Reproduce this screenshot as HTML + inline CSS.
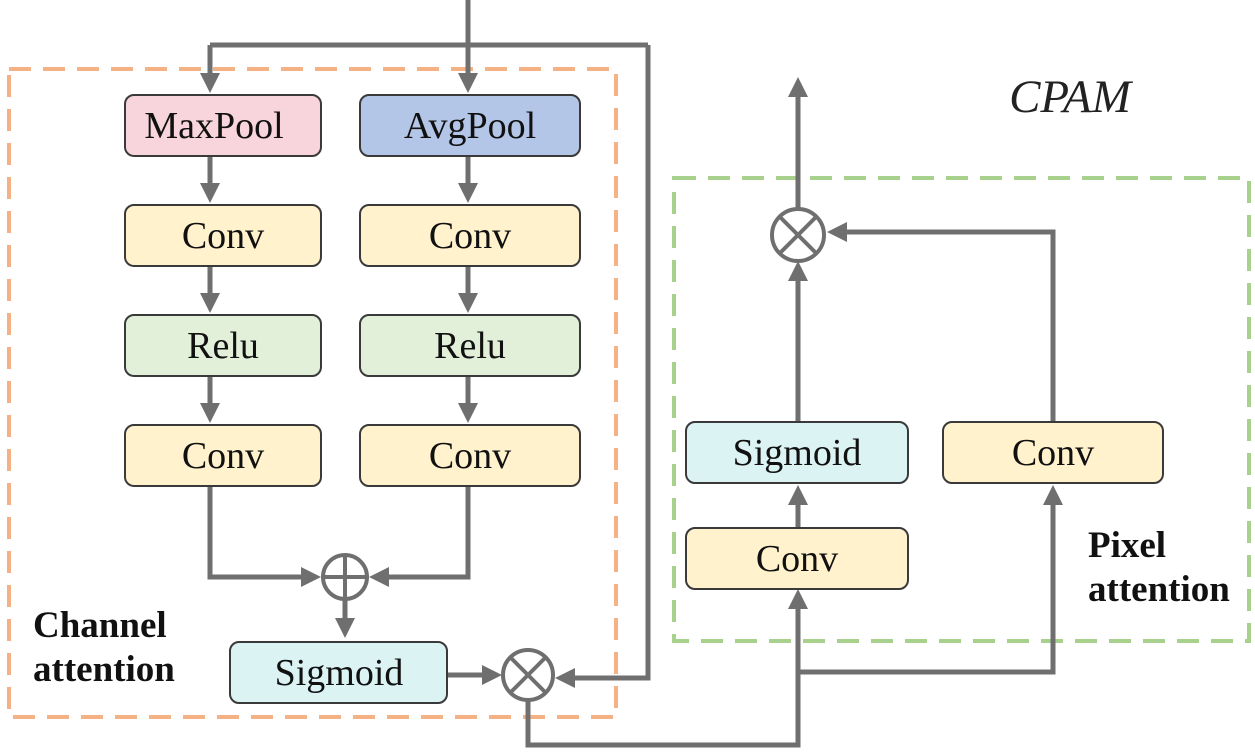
<!DOCTYPE html>
<html><head><meta charset="utf-8"><style>
html,body{margin:0;padding:0;background:#fff;}
svg{display:block;}
text{font-family:"Liberation Serif",serif;}
</style></head><body>
<svg width="1255" height="752" viewBox="0 0 1255 752" xmlns="http://www.w3.org/2000/svg">
<defs>
<marker id="a" markerWidth="4" markerHeight="4" refX="3" refY="2" orient="auto" markerUnits="strokeWidth">
<path d="M0,0 L4,2 L0,4 Z" fill="#6f6f6f"/></marker>
</defs>
<rect x="9" y="69" width="607" height="648" fill="none" stroke="#f4b183" stroke-width="4" stroke-dasharray="22,12"/>
<rect x="674" y="178" width="575" height="463" fill="none" stroke="#a9d18e" stroke-width="4" stroke-dasharray="22,12"/>

<g stroke="#6f6f6f" stroke-width="5" fill="none">
<line x1="468" y1="0" x2="468" y2="88" marker-end="url(#a)"/>
<polyline points="210,45 648,45"/>
<line x1="210" y1="45" x2="210" y2="88" marker-end="url(#a)"/>
<polyline points="648,45 648,678 560,678" marker-end="url(#a)"/>
<line x1="210" y1="157" x2="210" y2="198" marker-end="url(#a)"/>
<line x1="468" y1="157" x2="468" y2="198" marker-end="url(#a)"/>
<line x1="210" y1="267" x2="210" y2="308" marker-end="url(#a)"/>
<line x1="468" y1="267" x2="468" y2="308" marker-end="url(#a)"/>
<line x1="210" y1="377" x2="210" y2="418" marker-end="url(#a)"/>
<line x1="468" y1="377" x2="468" y2="418" marker-end="url(#a)"/>
<polyline points="210,487 210,577 316,577" marker-end="url(#a)"/>
<polyline points="468,487 468,577 374,577" marker-end="url(#a)"/>
<line x1="345" y1="600" x2="345" y2="633" marker-end="url(#a)"/>
<line x1="448" y1="675" x2="497" y2="675" marker-end="url(#a)"/>
<polyline points="528,700 528,745 798,745 798,594" marker-end="url(#a)"/>
<polyline points="798,672 1053,672 1053,490" marker-end="url(#a)"/>
<line x1="798" y1="528" x2="798" y2="490" marker-end="url(#a)"/>
<line x1="798" y1="422" x2="798" y2="266" marker-end="url(#a)"/>
<polyline points="1053,422 1053,232 832,232" marker-end="url(#a)"/>
<line x1="798" y1="210" x2="798" y2="82" marker-end="url(#a)"/>
</g>

<g stroke="#6f6f6f" stroke-width="4" fill="#fff">
<circle cx="345" cy="577" r="22"/>
<circle cx="528" cy="675" r="25"/>
<circle cx="798" cy="235" r="26"/>
</g>
<g stroke="#6f6f6f" stroke-width="4">
<line x1="323" y1="577" x2="367" y2="577"/><line x1="345" y1="555" x2="345" y2="599"/>
<line x1="510" y1="657" x2="546" y2="693"/><line x1="546" y1="657" x2="510" y2="693"/>
<line x1="779" y1="216" x2="817" y2="254"/><line x1="817" y1="216" x2="779" y2="254"/>
</g>

<g stroke="#3a3a3a" stroke-width="2">
<rect x="125" y="95" width="196" height="61" rx="9" fill="#f8d5dd"/>
<rect x="360" y="95" width="220" height="61" rx="9" fill="#b4c6e7"/>
<rect x="125" y="205" width="196" height="61" rx="9" fill="#fff2cc"/>
<rect x="360" y="205" width="220" height="61" rx="9" fill="#fff2cc"/>
<rect x="125" y="315" width="196" height="61" rx="9" fill="#e2f0d9"/>
<rect x="360" y="315" width="220" height="61" rx="9" fill="#e2f0d9"/>
<rect x="125" y="425" width="196" height="61" rx="9" fill="#fff2cc"/>
<rect x="360" y="425" width="220" height="61" rx="9" fill="#fff2cc"/>
<rect x="230" y="642" width="217" height="61" rx="9" fill="#dbf3f3"/>
<rect x="686" y="422" width="222" height="61" rx="9" fill="#dbf3f3"/>
<rect x="686" y="528" width="222" height="61" rx="9" fill="#fff2cc"/>
<rect x="943" y="422" width="220" height="61" rx="9" fill="#fff2cc"/>
</g>

<g font-size="38" fill="#111" text-anchor="middle">
<text x="214" y="138">MaxPool</text>
<text x="470" y="138">AvgPool</text>
<text x="223" y="248">Conv</text>
<text x="470" y="248">Conv</text>
<text x="223" y="358">Relu</text>
<text x="470" y="358">Relu</text>
<text x="223" y="468">Conv</text>
<text x="470" y="468">Conv</text>
<text x="339" y="685">Sigmoid</text>
<text x="797" y="465">Sigmoid</text>
<text x="797" y="571">Conv</text>
<text x="1053" y="465">Conv</text>
</g>
<text x="1070" y="112" font-size="47" font-style="italic" text-anchor="middle" fill="#222">CPAM</text>
<g font-size="37" font-weight="bold" fill="#111">
<text x="33" y="637">Channel</text>
<text x="33" y="681">attention</text>
<text x="1088" y="557">Pixel</text>
<text x="1088" y="601">attention</text>
</g>
</svg>
</body></html>
